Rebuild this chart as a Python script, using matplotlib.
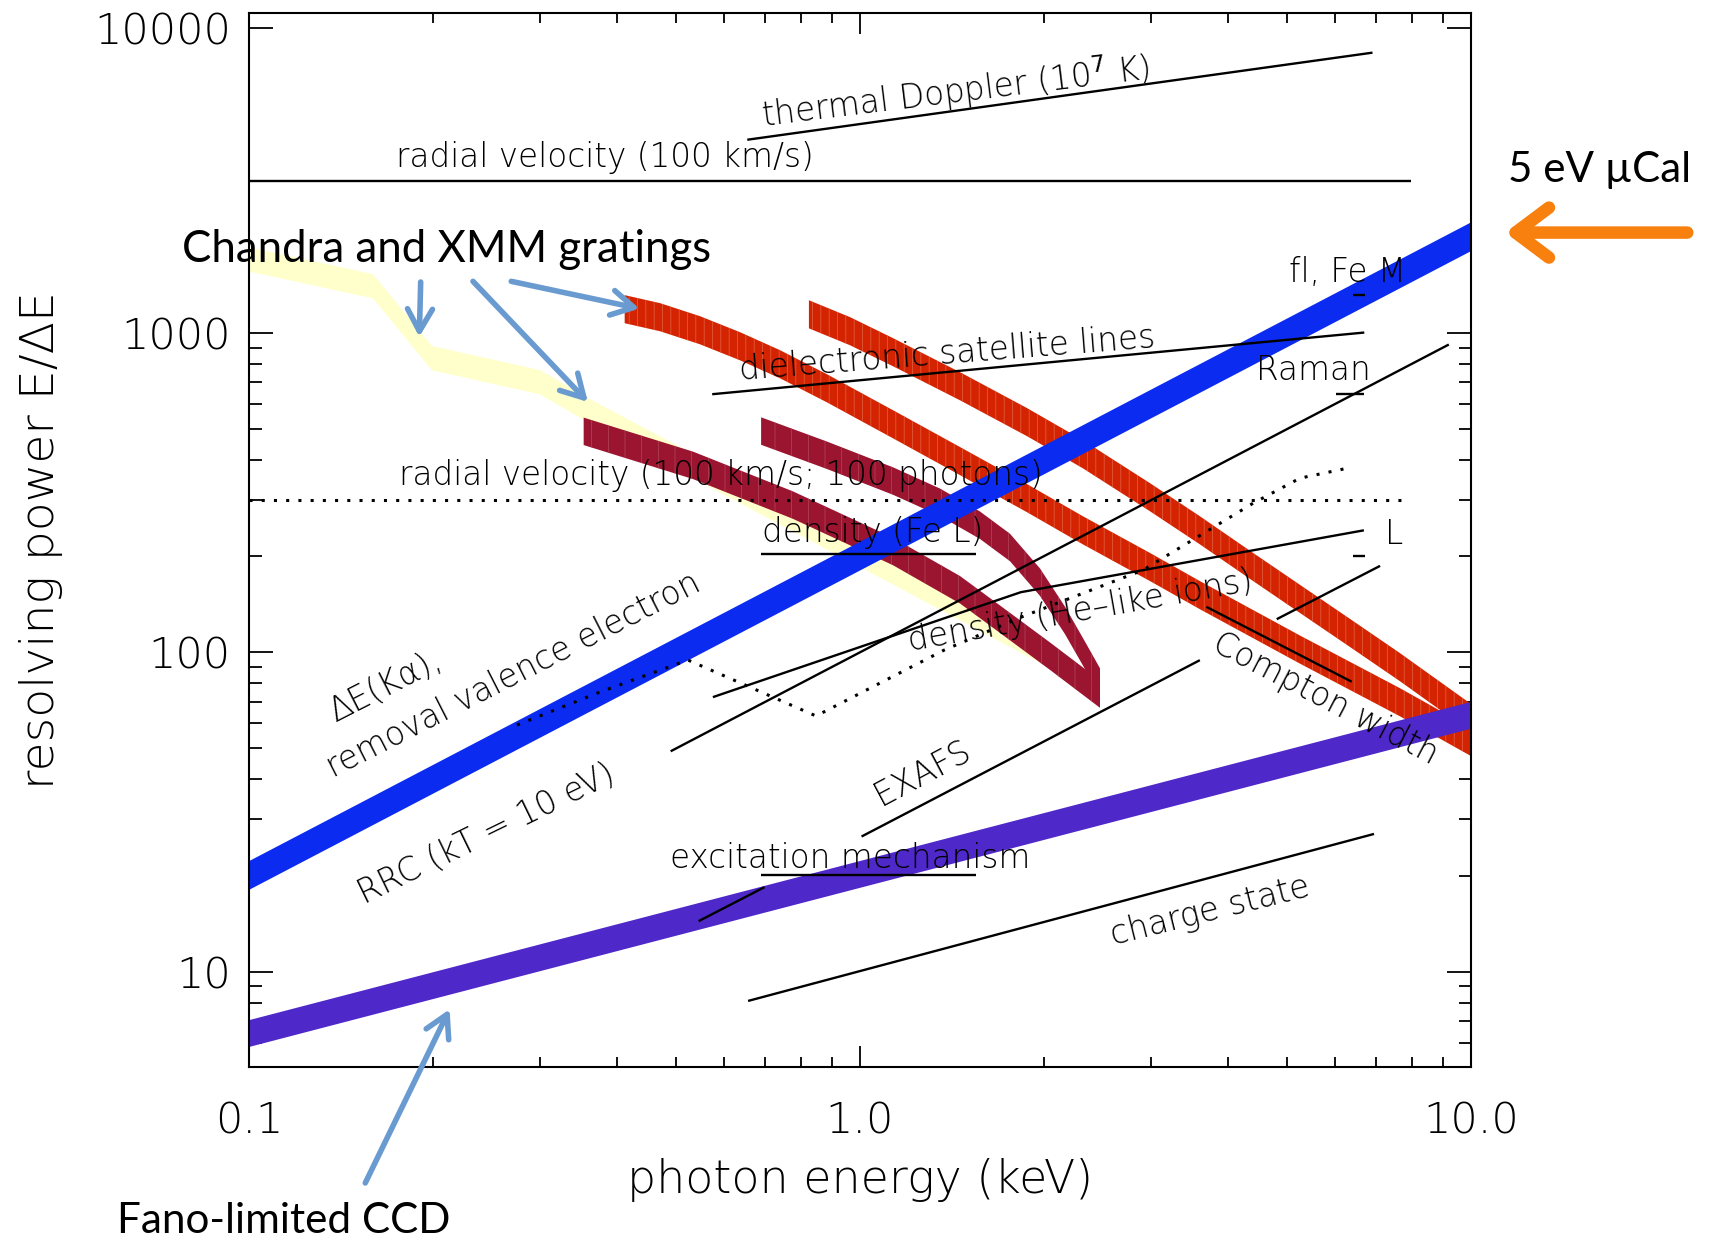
import numpy as np
import matplotlib
matplotlib.use("Agg")
import matplotlib.pyplot as plt

plt.rcParams['font.family'] = ['DejaVu Sans']
plt.rcParams['hatch.linewidth'] = 0.5

# photon energy (keV) and resolving power E/dE
ucal_E = [0.1, 10.0]
ucal_R = [20.0, 2000.0]

ccd_E = [0.1, 10.0]
ccd_R = [6.4, 63.5]

meg_E = [0.412, 0.471, 0.547, 0.636, 0.740, 0.883, 1.132, 1.458, 1.876, 2.317, 2.983,
         3.601, 5.25, 7.65, 10.0]
meg_R = [1187, 1120, 1020, 909, 798, 671, 518, 397, 304, 241, 185, 151, 102, 69.8, 52.4]

heg_E = [0.825, 0.963, 1.132, 1.458, 1.876, 2.317, 2.983, 3.601, 4.347, 5.25, 6.339,
         7.65, 10.0]
heg_R = [1144, 1013, 871, 681, 526, 417, 306, 241, 188, 147, 115, 89.9, 62.3]

rgs1_E = [0.353, 0.533, 0.777, 1.132, 1.458, 1.695, 2.046, 2.471]
rgs1_R = [492, 385, 289, 207, 157, 127, 97.3, 74]

rgs2_E = [0.689, 0.883, 1.132, 1.352, 1.572, 1.760, 1.970, 2.165, 2.334, 2.471]
rgs2_R = [493, 414, 344, 295, 250, 213, 166, 126, 98, 80.7]

letg_E = [0.1, 0.1596, 0.1993, 0.2995, 0.3614, 0.547, 1.132, 1.993]
letg_R = [1700, 1400, 834, 701, 569, 373, 178, 100]

# science requirement lines
thermal_E, thermal_R = [0.654, 6.90], [4027, 7545]
rv_E, rv_R = [0.1, 7.98], [3000, 3000]
rv100_E, rv100_R = [0.1, 7.76], [300, 300]
dr_E, dr_R = [0.573, 6.69], [643, 1003]
rrc_E, rrc_R = [0.490, 9.2], [49, 920]
exafs_E, exafs_R = [1.006, 3.60], [26.5, 94.5]
charge_E, charge_R = [0.656, 6.94], [8.1, 27.0]
heden_E, heden_R = [0.5745, 1.834, 6.68], [72.4, 154.3, 241]
compton_E, compton_R = [3.69, 6.38], [138.8, 80.9]
feL_E, feL_R = [0.689, 1.549], [202.5, 202.5]
excit_E, excit_R = [0.689, 1.549], [20.1, 20.1]
excit2_E, excit2_R = [0.5445, 0.698], [14.4, 18.4]
lseg_E, lseg_R = [4.81, 7.1], [127, 186.5]
kalpha_E = [0.2746, 0.3754, 0.5229, 0.8474, 1.373, 1.834, 2.905, 4.40, 5.25, 6.27]
kalpha_R = [59.2, 75.1, 94.6, 63.2, 101.6, 128.8, 180.9, 293, 351, 377]
fem_E, fem_R = [6.41, 6.71], [1313, 1313]
raman_E, raman_R = [6.01, 6.68], [643, 643]
lbar_E, lbar_R = [6.41, 6.71], [200.5, 200.5]

x_ticks = [0.1, 1.0, 10.0]
x_ticklabels = ['0.1', '1.0', '10.0']
y_ticks = [10, 100, 1000, 9000]
y_ticklabels = ['10', '100', '1000', '10000']

fig = plt.figure(figsize=(17.1, 12.41), dpi=100)
ax = fig.add_axes([0.1456, 0.1402, 0.7146, 0.8493])
ax.set_xscale('log')
ax.set_yscale('log')
ax.set_xlim(0.1, 10)
ax.set_ylim(5.03, 10040)


def band(E, R, half, color, z, stripe=None, hatch=None):
    E = np.asarray(E, float)
    R = np.asarray(R, float)
    f = 10 ** half
    kw = dict(facecolor=color, linewidth=0, zorder=z)
    if hatch:
        kw.update(edgecolor=stripe, hatch=hatch)
    ax.fill_between(E, R / f, R * f, **kw)


band(letg_E, letg_R, 0.038, '#ffffcc', 1)
band(meg_E, meg_R, 0.044, '#d42300', 2, '#e2664a', '||')
band(heg_E, heg_R, 0.044, '#d42300', 2, '#e2664a', '||')
band(rgs1_E, rgs1_R, 0.043, '#9b1430', 3, '#b04a5c', '|')
band(rgs2_E, rgs2_R, 0.043, '#9b1430', 3, '#b04a5c', '|')
band(ucal_E, ucal_R, 0.045, '#0b2bf0', 4)
band(ccd_E, ccd_R, 0.042, '#4f28c9', 5)

lw = 1.7
for E, R in [(thermal_E, thermal_R), (rv_E, rv_R), (dr_E, dr_R), (rrc_E, rrc_R),
             (exafs_E, exafs_R), (charge_E, charge_R), (heden_E, heden_R),
             (compton_E, compton_R), (feL_E, feL_R), (excit_E, excit_R),
             (excit2_E, excit2_R), (lseg_E, lseg_R), (fem_E, fem_R),
             (raman_E, raman_R), (lbar_E, lbar_R)]:
    ax.plot(E, R, color='black', lw=lw, zorder=6, solid_capstyle='butt')
for E, R in [(rv100_E, rv100_R), (kalpha_E, kalpha_R)]:
    ax.plot(E, R, color='black', lw=2.2, zorder=6, linestyle=(0, (1, 3.0)))

# axes
for s in ax.spines.values():
    s.set_linewidth(1.5)
    s.set_zorder(7)
ax.set_xticks(x_ticks, labels=x_ticklabels)
ax.set_xticks([k * 10.0 ** d for d in (-1, 0) for k in range(2, 10)], minor=True)
ax.set_yticks(y_ticks, labels=y_ticklabels)
ax.set_yticks([k * 10.0 ** d for d in (0, 1, 2) for k in range(2, 10)
               if 5 < k * 10.0 ** d < 9000], minor=True)
ax.tick_params(which='both', direction='in', top=True, right=True, width=1.3)
ax.tick_params(axis='x', which='major', length=15, pad=24, labelsize=31)
ax.tick_params(axis='x', which='minor', length=7.5)
ax.tick_params(axis='y', which='major', length=17, pad=13, labelsize=31)
ax.tick_params(axis='y', which='minor', length=9)
for lab in ax.get_xticklabels() + ax.get_yticklabels():
    lab.set_fontweight('light')
ax.set_xlabel('photon energy (keV)', fontsize=33, fontweight='light')
ax.xaxis.set_label_coords(0.5, -0.086)
ax.set_ylabel('resolving power E/ΔE', fontsize=34, fontweight='light')
ax.yaxis.set_label_coords(-0.152, 0.5)

# in-plot labels
tk = dict(fontsize=23.5, fontweight='light', zorder=8, rotation_mode='anchor')
ax.text(0.3825, 3308, 'radial velocity (100 km/s)', ha='center', va='baseline', **tk)
ax.text(1.442, 5236, 'thermal Doppler (10$^7$ K)', ha='center', va='baseline', rotation=7, **tk)
ax.text(1.393, 804, 'dielectronic satellite lines', ha='center', va='baseline', rotation=4.5, **tk)
ax.text(0.592, 333.7, 'radial velocity (100 km/s; 100 photons)', ha='center', va='baseline', **tk)
ax.text(1.050, 221.8, 'density (Fe L)', ha='center', va='baseline', **tk)
ax.text(2.308, 126, 'density (He–like ions)', ha='center', va='baseline', rotation=10, **tk)
ax.text(0.1383, 60.5, 'ΔE(Kα),', ha='left', va='baseline', rotation=27, **tk)
ax.text(0.1372, 40.4, 'removal valence electron', ha='left', va='baseline', rotation=27, **tk)
ax.text(0.1542, 16.2, 'RRC (kT = 10 eV)', ha='left', va='baseline', rotation=26, **tk)
ax.text(1.082, 33.0, 'EXAFS', ha='left', va='baseline', rotation=28, **tk)
ax.text(0.965, 21.1, 'excitation mechanism', ha='center', va='baseline', **tk)
ax.text(2.595, 12.1, 'charge state', ha='left', va='baseline', rotation=14, **tk)
ax.text(3.74, 102, 'Compton width', ha='left', va='baseline', rotation=-27.5, **tk)
ax.text(6.29, 1444, 'fl, Fe M', ha='center', va='baseline', **tk)
ax.text(5.52, 711, 'Raman', ha='center', va='baseline', **tk)
ax.text(7.50, 219, 'L', ha='center', va='baseline', **tk)

# slide annotations
ck = dict(family=['Lato', 'DejaVu Sans'], color='black', zorder=9, annotation_clip=False)
blue = '#6a9bd0'
ax.annotate('Chandra and XMM gratings', xy=(0.0777, 1668), ha='left', va='baseline',
            fontsize=31.5, **ck)
ax.annotate('5 eV µCal', xy=(11.5, 2969), ha='left', va='baseline', fontsize=30.3, **ck)
ax.annotate('Fano-limited CCD', xy=(0.0607, 1.52), ha='left', va='baseline',
            fontsize=30.4, **ck)

bk = dict(arrowstyle='->,head_length=0.8,head_width=0.45', color=blue, lw=4,
          shrinkA=0, shrinkB=0, mutation_scale=20)
for tail, tip in [((0.191, 1444), (0.190, 972)),
                  ((0.2326, 1451), (0.3587, 608)),
                  ((0.2687, 1451), (0.4356, 1192)),
                  ((0.155, 2.18), (0.213, 7.63))]:
    ax.annotate('', xy=tip, xytext=tail, arrowprops=bk, annotation_clip=False, zorder=9)
ax.annotate('', xy=(11.38, 2062), xytext=(22.6, 2062), annotation_clip=False, zorder=9,
            arrowprops=dict(arrowstyle='->,head_length=1.2,head_width=0.9', color='#f7800f',
                            lw=9, shrinkA=0, shrinkB=0, mutation_scale=20))

fig.savefig('out.png', dpi=100)
